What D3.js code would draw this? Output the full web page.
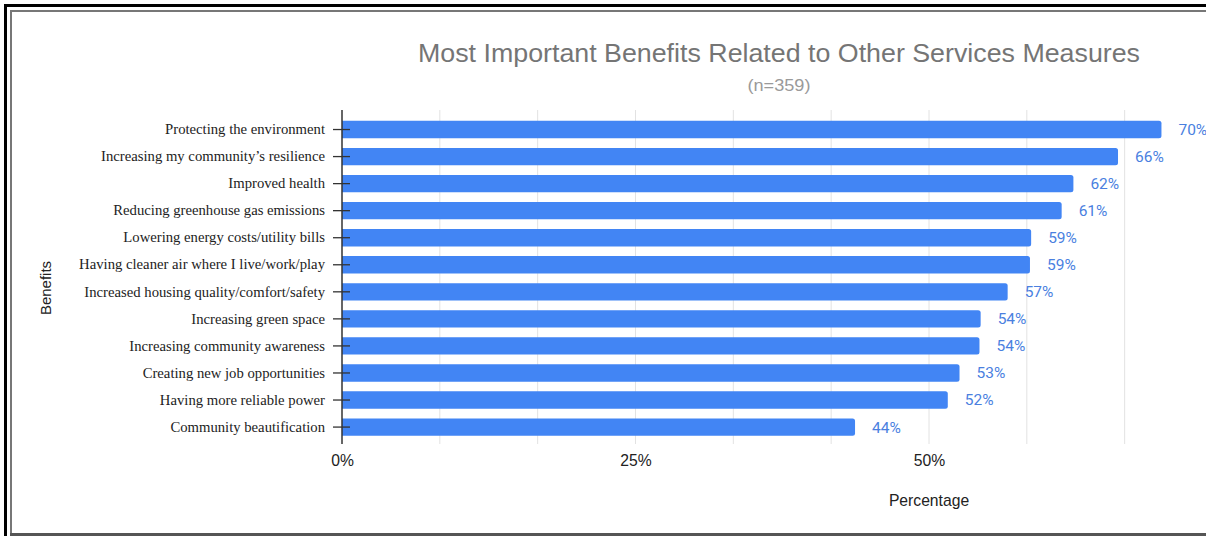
<!DOCTYPE html>
<html><head><meta charset="utf-8">
<script src="https://cdn.jsdelivr.net/npm/d3@7"></script>
<style>body{margin:0;background:#fff}svg{display:block}</style>
</head><body>
<script>
const categories = ["Protecting the environment","Increasing my community’s resilience","Improved health","Reducing greenhouse gas emissions","Lowering energy costs/utility bills","Having cleaner air where I live/work/play","Increased housing quality/comfort/safety","Increasing green space","Increasing community awareness","Creating new job opportunities","Having more reliable power","Community beautification"];
const values = [69.8,66.1,62.3,61.3,58.7,58.6,56.7,54.4,54.3,52.6,51.6,43.7];
const xTicks = [0,25,50];
const gridTicks = [0,25/3,50/3,25,100/3,125/3,50,175/3,200/3];
const title = "Most Important Benefits Related to Other Services Measures";
const subtitle = "(n=359)";

const W=1206,H=536;
const svg=d3.select("body").append("svg").attr("width",W).attr("height",H);
// frame
svg.append("rect").attr("x",4).attr("y",4).attr("width",3).attr("height",H-4).attr("fill","#000");
svg.append("rect").attr("x",4).attr("y",4).attr("width",W-4).attr("height",3).attr("fill","#000");
svg.append("rect").attr("x",10).attr("y",10).attr("width",2).attr("height",H-10).attr("fill","#777");
svg.append("rect").attr("x",10).attr("y",10).attr("width",W-10).attr("height",2).attr("fill","#777");
svg.append("rect").attr("x",10).attr("y",533).attr("width",W-10).attr("height",3).attr("fill","#555");

const x=d3.scaleLinear().domain([0,50]).range([342,929]);
const y=d3.scaleBand().domain(categories).range([116,440.6]).paddingInner(0.36).paddingOuter(0.18);

// grid
svg.append("g").selectAll("line").data(gridTicks.slice(1)).join("line")
 .attr("x1",d=>x(d)).attr("x2",d=>x(d)).attr("y1",110).attr("y2",444)
 .attr("stroke","#e2e2e2").attr("stroke-width",1);

// bars
svg.append("g").selectAll("path").data(values).join("path")
 .attr("d",(d,i)=>{const x0=x(0),x1=x(d),y0=y(categories[i]),h=y.bandwidth(),r=2.5;
   return `M${x0},${y0}H${x1-r}Q${x1},${y0} ${x1},${y0+r}V${y0+h-r}Q${x1},${y0+h} ${x1-r},${y0+h}H${x0}Z`;})
 .attr("fill","#4285f4");

// value labels
svg.append("g").selectAll("text").data(values).join("text")
 .attr("x",d=>x(d)+17).attr("y",(d,i)=>y(categories[i])+y.bandwidth()/2)
 .attr("dy","0.35em").attr("fill","#4a7fdf")
 .attr("font-family","Roboto, 'Liberation Sans', sans-serif").attr("font-size",15.5)
 .text(d=>Math.round(d)+"%");

// y axis
const ya=svg.append("g").attr("transform",`translate(${x(0)},0)`)
 .call(d3.axisLeft(y).tickSize(9).tickPadding(8));
ya.select(".domain").remove();
ya.selectAll(".tick line").attr("x1",-9).attr("x2",8).attr("stroke","#333").attr("stroke-width",1.3);
ya.selectAll(".tick text").attr("font-family","'Liberation Serif','Times New Roman',serif").attr("font-size",14.7).attr("fill","#222");
svg.append("line").attr("x1",x(0)).attr("x2",x(0)).attr("y1",110).attr("y2",444).attr("stroke","#333").attr("stroke-width",1.5);

// x axis labels
const xa=svg.append("g").attr("transform","translate(0,444)")
 .call(d3.axisBottom(x).tickValues(xTicks).tickSize(0).tickPadding(11).tickFormat(d=>d+"%"));
xa.select(".domain").remove();
xa.selectAll("text").attr("font-family","'Liberation Sans',Arial,sans-serif").attr("font-size",15.7).attr("fill","#222");

svg.append("text").attr("x",929).attr("y",506).attr("text-anchor","middle")
 .attr("font-family","'Liberation Sans',Arial,sans-serif").attr("font-size",15.7).attr("fill","#222").text("Percentage");
svg.append("text").attr("transform","translate(51,288) rotate(-90)").attr("text-anchor","middle")
 .attr("font-family","'Liberation Sans',Arial,sans-serif").attr("font-size",15).attr("fill","#222").text("Benefits");

// titles
svg.append("text").attr("x",779).attr("y",62).attr("text-anchor","middle")
 .attr("font-family","'Liberation Sans',Arial,sans-serif").attr("font-size",26)
 .attr("textLength",722).attr("lengthAdjust","spacingAndGlyphs")
 .attr("fill","#757575").text(title);
svg.append("text").attr("x",779).attr("y",91).attr("text-anchor","middle")
 .attr("font-family","'Liberation Sans',Arial,sans-serif").attr("font-size",17)
 .attr("textLength",63).attr("lengthAdjust","spacingAndGlyphs")
 .attr("fill","#9a9a9a").text(subtitle);
</script>
</body></html>
